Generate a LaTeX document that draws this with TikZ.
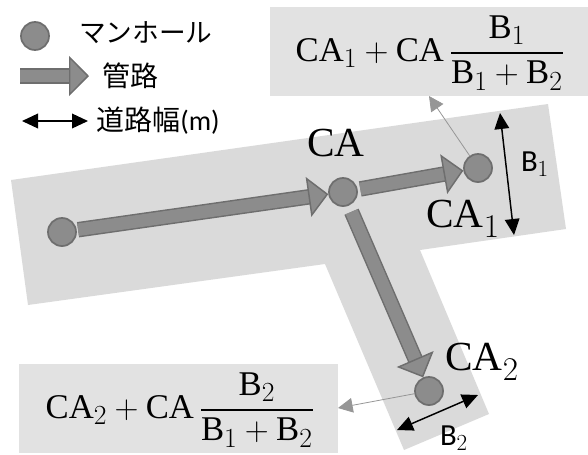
\documentclass[tikz,border=0pt]{standalone}
\usepackage{amsmath}
\usepackage{fontspec}
\setmainfont{Liberation Serif}
\setsansfont{Carlito}
\newfontfamily\jpfont{Noto Sans CJK JP}
\usetikzlibrary{arrows.meta, positioning}
\DeclareMathSizes{26}{26}{20}{15}
\DeclareMathSizes{31}{31}{24}{18}
\DeclareMathSizes{23}{23}{17}{13}
\definecolor{roadgray}{RGB}{218, 218, 218}
\definecolor{boxgray}{RGB}{226, 226, 226}
\definecolor{pipegray}{RGB}{140, 140, 140}
\definecolor{edgegray}{RGB}{110, 110, 110}
\definecolor{leadgray}{RGB}{150, 150, 150}
\newcommand{\fracB}[1]{\genfrac{}{}{1.7pt}{0}{\mathrm{B}_{#1}}{\mathrm{B}_1+\mathrm{B}_2}}
\tikzset{
    manhole/.style = {circle, draw=edgegray, fill=pipegray, line width=1.3pt, minimum size=21pt, inner sep=0pt},
    pipe/.style = {draw=edgegray, line width=1.1pt, double=pipegray, double distance=9.4pt, -{Triangle[length=15pt, width=30pt, line width=1.1pt, fill=pipegray]}},
    widtharrow/.style = {line width=1.1pt, {Triangle[length=12pt, width=11pt]}-{Triangle[length=12pt, width=11pt]}},
    lead/.style = {draw=leadgray, line width=0.6pt, -{Triangle[length=11pt, width=11pt, fill=leadgray]}},
    formula/.style = {inner sep=0pt, font=\fontsize{26}{30}\selectfont},
    calabel/.style = {inner sep=0pt, font=\fontsize{31}{35}\selectfont},
    blabel/.style = {inner sep=0pt, font=\sffamily\fontsize{23}{26}\selectfont},
    legendtext/.style = {inner sep=0pt, font=\jpfont\fontsize{20}{24}\selectfont}
}
\begin{document}
\begin{tikzpicture}[x=0.75pt, y=-0.75pt]
\useasboundingbox (0,0) rectangle (588,454);

\fill [roadgray] (11,180) -- (548,104) -- (566,229) -- (420,250) -- (489,414) -- (404,450) -- (325,264) -- (28,305) -- cycle;
\fill [boxgray] (270,7) rectangle (588,96);
\fill [boxgray] (19,364) rectangle (338,453);

\node (legendhole) [manhole] at (35,36) {};
\node (legendholetext) [legendtext, anchor=west] at (79,33) {マンホール};
\coordinate (legendpipea) at (20,76);
\coordinate (legendpipeb) at (89,76);
\node (legendpipetext) [legendtext, anchor=west, font=\jpfont\fontsize{21}{24}\selectfont] at (102,76) {管路};
\coordinate (legendwidtha) at (22,121);
\coordinate (legendwidthb) at (88,121);
\node (legendwidthtext) [legendtext, anchor=west, font=\jpfont\fontsize{21}{24}\selectfont] at (96,121) {道路幅{\sffamily(m)}};

\node (hole) [manhole] at (62,232) {};
\node (ca) [manhole] at (343,192) {};
\node (caone) [manhole] at (478,168) {};
\node (catwo) [manhole] at (429,391) {};

\node (calabel) [calabel] at (336,143) {$\mathrm{CA}$};
\node (caonelabel) [calabel] at (463,219) {$\mathrm{CA}_1$};
\node (catwolabel) [calabel] at (482,362) {$\mathrm{CA}_2$};

\node (formulaone) [formula] at (430,53) {$\mathrm{CA}_1+\mathrm{CA}\,\fracB{1}$};
\node (formulatwo) [formula] at (180,410) {$\mathrm{CA}_2+\mathrm{CA}\,\fracB{2}$};

\coordinate (bonea) at (500,113);
\coordinate (boneb) at (514,235);
\node (bonelabel) [blabel] at (535,164) {B$_1$};
\coordinate (btwoa) at (397,430);
\coordinate (btwob) at (478,395);
\node (btwolabel) [blabel] at (454,438) {B$_2$};
\coordinate (leadone) at (429,96);
\coordinate (leadtwo) at (338,408);

\draw [pipe] (legendpipea) -- (legendpipeb);
\draw [widtharrow] (legendwidtha) -- (legendwidthb);
\draw [pipe, shorten <=1pt] (hole) -- (ca);
\draw [pipe, shorten <=2pt] (ca) -- (caone);
\draw [pipe, shorten <=5pt] (ca) -- (catwo);
\draw [widtharrow] (bonea) -- (boneb);
\draw [widtharrow] (btwoa) -- (btwob);
\draw [lead] (caone) -- (leadone);
\draw [lead] (catwo) -- (leadtwo);
\end{tikzpicture}
\end{document}
